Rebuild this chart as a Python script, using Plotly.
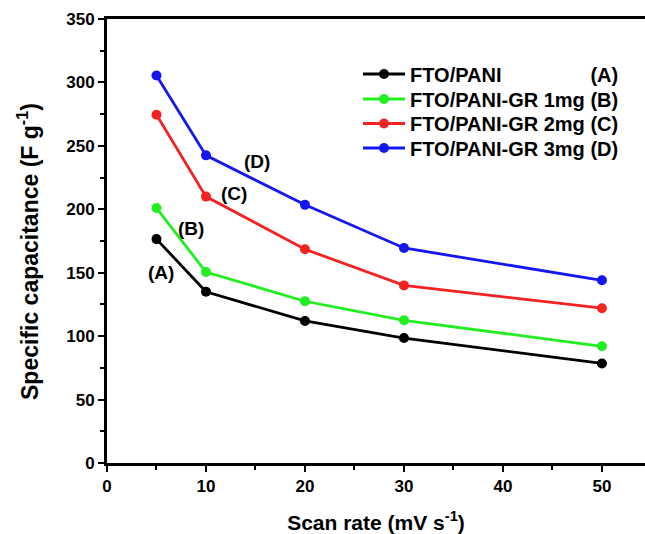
import plotly.graph_objects as go

# Scan rate (mV/s)
scan_rate = [5, 10, 20, 30, 50]

# Specific capacitance (F/g) of each electrode
cap_pani = [176.5, 135, 112, 98.5, 78.5]
cap_gr1 = [201, 150.5, 127.5, 112.5, 92]
cap_gr2 = [274.5, 210, 168.5, 140, 122]
cap_gr3 = [305.5, 242.5, 203.5, 169.5, 144]

series_names = [
    "FTO/PANI" + "\u00a0" * 16 + "(A)",
    "FTO/PANI-GR 1mg (B)",
    "FTO/PANI-GR 2mg (C)",
    "FTO/PANI-GR 3mg (D)",
]
series_values = [cap_pani, cap_gr1, cap_gr2, cap_gr3]
series_colors = ["#000000", "#22ee22", "#f52222", "#1616f2"]

# Curve labels: (text, x, y)
curve_labels = [("(A)", 5.5, 150), ("(B)", 8.5, 185), ("(C)", 12.8, 212.5), ("(D)", 15.2, 237.5)]

FONT = "Liberation Sans, Arial, sans-serif"

W, H = 645, 534
l, r, t, b = 107, 0, 19, 71
pw, ph = W - l - r, H - t - b


def px_x(px):
    return (px - l) / pw


def px_y(py):
    return 1 - (py - t) / ph


legend_ids = ["legend", "legend2", "legend3", "legend4"]
legend_rows = [74, 99, 123.5, 148]  # row centres, pixels from top

fig = go.Figure()
for name, vals, col, lid in zip(series_names, series_values, series_colors, legend_ids):
    fig.add_trace(go.Scatter(
        x=scan_rate, y=vals, name=name, mode="lines+markers",
        line=dict(color=col, width=2.8),
        marker=dict(color=col, size=10, symbol="circle"),
        legend=lid,
    ))

annotations = [
    dict(text=t_, x=x, y=y, xref="x", yref="y", showarrow=False,
         font=dict(family=FONT, size=19, color="black", weight="bold"))
    for t_, x, y in curve_labels
]
annotations.append(dict(
    text="Specific capacitance (F g<sup>-1</sup>)", textangle=-90,
    x=px_x(28), y=px_y(252), xref="paper", yref="paper",
    xanchor="center", yanchor="middle", showarrow=False,
    font=dict(family=FONT, size=23, color="black", weight="bold"),
))

legend_layout = {}
for lid, row in zip(legend_ids, legend_rows):
    legend_layout[lid] = dict(
        x=px_x(358), y=px_y(row), xanchor="left", yanchor="middle",
        font=dict(family=FONT, size=20, color="black", weight="bold"),
        bgcolor="rgba(0,0,0,0)", itemwidth=42,
    )

fig.update_layout(
    width=W, height=H,
    margin=dict(l=l, r=r, t=t, b=b),
    paper_bgcolor="white", plot_bgcolor="white",
    showlegend=True,
    annotations=annotations,
    xaxis=dict(
        range=[0, 54.35], tickmode="array", tickvals=[0, 10, 20, 30, 40, 50],
        showgrid=False, zeroline=False,
        showline=True, linecolor="black", linewidth=3, mirror=True,
        ticks="outside", ticklen=6, tickwidth=2.2, tickcolor="black",
        minor=dict(tickvals=[5, 15, 25, 35, 45], ticks="outside", ticklen=4,
                   tickwidth=2.2, tickcolor="black"),
        tickfont=dict(family=FONT, size=17, color="black", weight="bold"),
        title=dict(text="Scan rate (mV s<sup>-1</sup>)", standoff=20,
                   font=dict(family=FONT, size=21, color="black", weight="bold")),
    ),
    yaxis=dict(
        range=[0, 350], tickmode="array",
        tickvals=[0, 50, 100, 150, 200, 250, 300, 350],
        showgrid=False, zeroline=False,
        showline=True, linecolor="black", linewidth=3, mirror=False,
        ticks="outside", ticklen=6, tickwidth=2.2, tickcolor="black",
        minor=dict(tickvals=[25, 75, 125, 175, 225, 275, 325], ticks="outside",
                   ticklen=4, tickwidth=2.2, tickcolor="black"),
        tickfont=dict(family=FONT, size=17, color="black", weight="bold"),
    ),
    **legend_layout,
)

fig.write_html("out.html")
